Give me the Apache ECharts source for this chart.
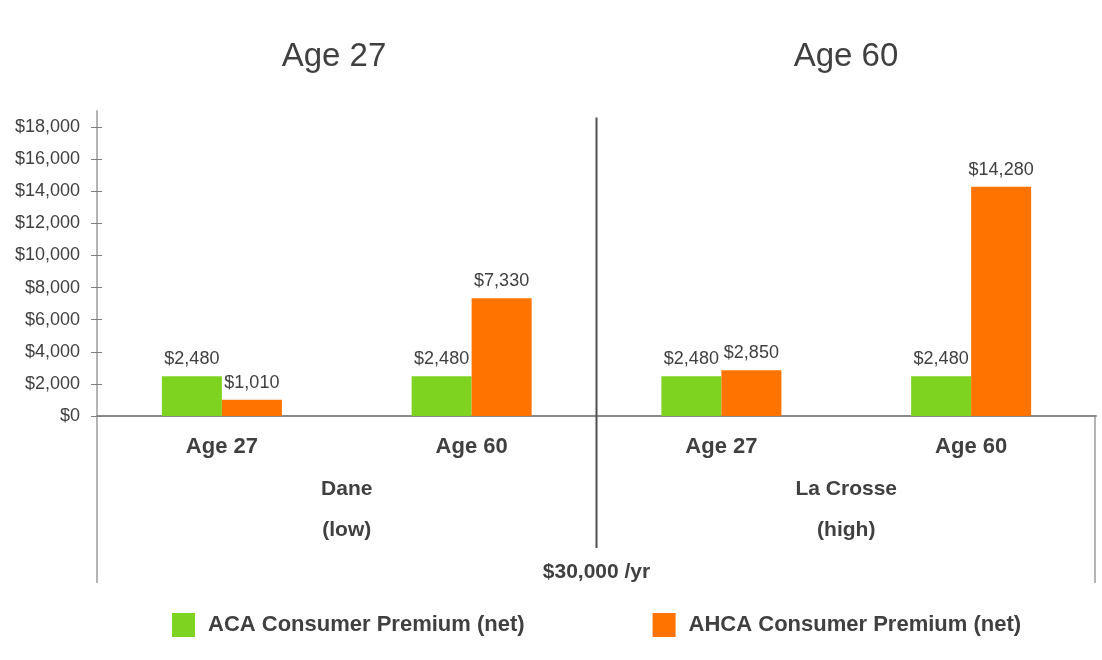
<!DOCTYPE html>
<html>
<head>
<meta charset="utf-8">
<script src="https://cdn.jsdelivr.net/npm/echarts@6/dist/echarts.min.js"></script>
<style>
html,body{margin:0;padding:0;background:#fff;}
#main{width:1102px;height:660px;}
</style>
</head>
<body>
<div id="main"></div>
<script>
var categories = ['Age 27', 'Age 60', 'Age 27', 'Age 60'];
var groups = ['Dane\n(low)', 'La Crosse\n(high)'];
var panelTitles = ['Age 27', 'Age 60'];
var incomeLabel = '$30,000 /yr';
var seriesNames = ['ACA Consumer Premium (net)', 'AHCA Consumer Premium (net)'];
var acaValues = [2480, 2480, 2480, 2480];
var ahcaValues = [1010, 7330, 2850, 14280];
var yTicks = [0, 2000, 4000, 6000, 8000, 10000, 12000, 14000, 16000, 18000];

var FONT = '"Liberation Sans", Arial, sans-serif';
var TXT = '#404040';
function money(v) { return '$' + Number(v).toLocaleString('en-US'); }

var chart = echarts.init(document.getElementById('main'));
var option = {
  backgroundColor: '#ffffff',
  animation: false,
  textStyle: { fontFamily: FONT },
  title: [
    { text: panelTitles[0], left: 329, top: 35, textAlign: 'center',
      textStyle: { fontSize: 33, fontWeight: 'normal', color: TXT, fontFamily: FONT } },
    { text: panelTitles[1], left: 841, top: 35, textAlign: 'center',
      textStyle: { fontSize: 33, fontWeight: 'normal', color: TXT, fontFamily: FONT } }
  ],
  legend: {
    left: 167, top: 608,
    itemWidth: 23, itemHeight: 24, itemGap: 128,
    icon: 'rect',
    textStyle: { fontSize: 22, fontWeight: 'bold', color: TXT, fontFamily: FONT, padding: [0, 0, 0, 8] },
    data: seriesNames
  },
  grid: { left: 97, right: 6, top: 111, bottom: 244, containLabel: false },
  xAxis: [
    {
      type: 'category', data: categories, position: 'bottom',
      axisLine: { lineStyle: { color: '#8a8a8a', width: 2 } },
      axisTick: { show: false },
      axisLabel: { margin: 20, fontSize: 22, fontWeight: 'bold', color: TXT, fontFamily: FONT }
    },
    {
      type: 'category', data: groups, position: 'bottom',
      axisLine: { show: false }, axisTick: { show: false },
      axisLabel: { margin: 53, fontSize: 21, fontWeight: 'bold', color: TXT, fontFamily: FONT, lineHeight: 41 },
      name: incomeLabel, nameLocation: 'middle', nameGap: 146,
      nameTextStyle: { fontSize: 21, fontWeight: 'bold', color: TXT, fontFamily: FONT }
    }
  ],
  yAxis: [
    {
      type: 'value', min: 0, max: 19000, position: 'left',
      axisLine: { show: true, lineStyle: { color: '#b4b4b4', width: 2 } },
      axisTick: { show: true, length: 6, customValues: yTicks, lineStyle: { color: '#808080', width: 1 } },
      axisLabel: { margin: 17, fontSize: 18, color: TXT, fontFamily: FONT, customValues: yTicks, formatter: money },
      splitLine: { show: false }
    },
    {
      type: 'value', min: 0, max: 19000, position: 'left',
      axisLine: { show: false },
      axisTick: { show: true, inside: true, length: 5, customValues: yTicks, lineStyle: { color: '#808080', width: 1 } },
      axisLabel: { show: false },
      splitLine: { show: false }
    }
  ],
  series: [
    {
      name: seriesNames[0], type: 'bar', data: acaValues, xAxisIndex: 0, yAxisIndex: 0,
      barWidth: 60, barGap: '0%',
      itemStyle: { color: '#7ed321' },
      label: { show: true, position: 'top', distance: 8, fontSize: 18, color: TXT, fontFamily: FONT,
               formatter: function (p) { return money(p.value); } }
    },
    {
      name: seriesNames[1], type: 'bar', data: ahcaValues, xAxisIndex: 0, yAxisIndex: 0,
      barWidth: 60, barGap: '0%',
      itemStyle: { color: '#ff7300' },
      label: { show: true, position: 'top', distance: 8, fontSize: 18, color: TXT, fontFamily: FONT,
               formatter: function (p) { return money(p.value); } }
    }
  ]
};
chart.setOption(option);

// decorative frame lines derived from the axes
var x1 = chart.convertToPixel({ xAxisIndex: 0 }, 1);
var x2 = chart.convertToPixel({ xAxisIndex: 0 }, 2);
var x0 = chart.convertToPixel({ xAxisIndex: 0 }, 0);
var x3 = chart.convertToPixel({ xAxisIndex: 0 }, 3);
var step = x1 - x0;
var leftEdge = x0 - step / 2, rightEdge = x3 + step / 2;
var yZero = chart.convertToPixel({ yAxisIndex: 0 }, 0);
var yTop = chart.convertToPixel({ yAxisIndex: 0 }, 18600);
var mid = (x1 + x2) / 2;
chart.setOption({
  graphic: [
    { type: 'line', shape: { x1: mid, y1: yTop, x2: mid, y2: yZero + 132 },
      style: { stroke: '#505050', lineWidth: 2 }, z: 10 },
    { type: 'line', shape: { x1: leftEdge, y1: yZero, x2: leftEdge, y2: yZero + 167 },
      style: { stroke: '#b4b4b4', lineWidth: 2 } },
    { type: 'line', shape: { x1: rightEdge - 1, y1: yZero, x2: rightEdge - 1, y2: yZero + 167 },
      style: { stroke: '#b4b4b4', lineWidth: 2 } }
  ]
});
</script>
</body>
</html>
